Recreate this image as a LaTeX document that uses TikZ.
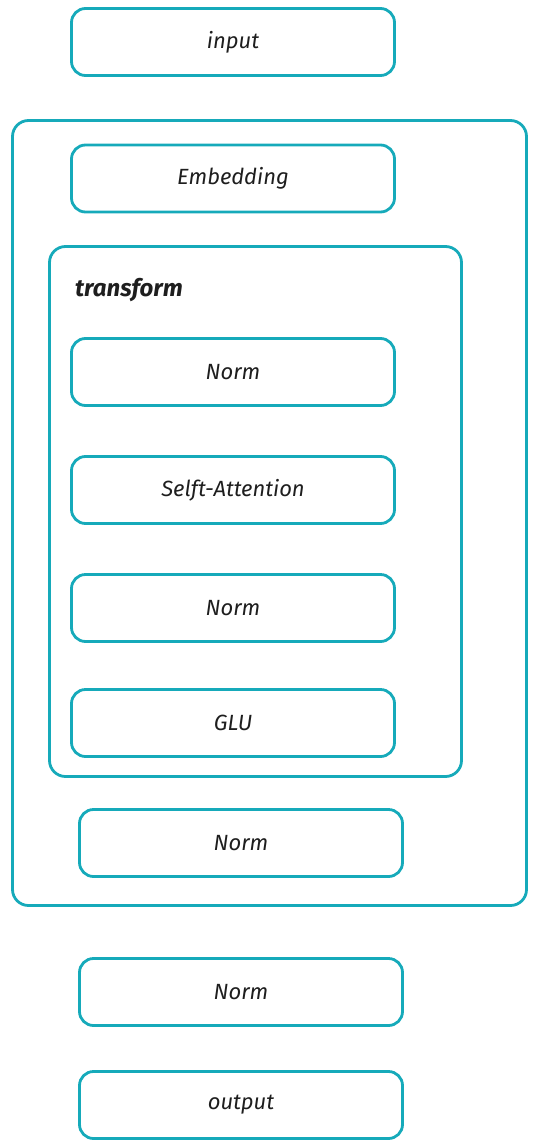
\documentclass[tikz,border=0pt]{standalone}
\usepackage{fontspec}
\setmainfont{Fira Sans}
\usetikzlibrary{shapes}

\definecolor{sketchteal}{RGB}{22,170,186}
\definecolor{inktext}{RGB}{30,30,30}

\tikzset{
    layer/.style={draw=sketchteal, line width=2.8pt, rounded corners=14pt,
        minimum width=323pt, minimum height=67pt, inner sep=0pt,
        text=inktext, font=\fontsize{22}{26}\selectfont\itshape},
    frame/.style={draw=sketchteal, line width=2.8pt, rounded corners=16pt, inner sep=0pt}
}

\begin{document}
\begin{tikzpicture}[x=1pt,y=-1pt]
\useasboundingbox (0,0) rectangle (535,1145);
% outer model box and transform block
\node[frame, minimum width=514pt, minimum height=785pt] (model) at (269.5,513) {};
\node[frame, minimum width=412pt, minimum height=530pt] (transform) at (255.5,511.5) {};
\node[anchor=base west, inner sep=0pt, text=inktext, font=\fontsize{24}{28}\selectfont\bfseries\itshape] (transformlabel) at (75,296) {transform};
% layers
\node[layer] (input) at (233,42) {input};
\node[layer] (embedding) at (233,178.5) {Embedding};
\node[layer] (norma) at (233,372) {Norm};
\node[layer] (attention) at (233,490) {Selft-Attention};
\node[layer] (normb) at (233,608) {Norm};
\node[layer] (glu) at (233,723) {GLU};
\node[layer] (normc) at (241,843) {Norm};
\node[layer] (normd) at (241,992) {Norm};
\node[layer] (output) at (241,1105) {output};
\end{tikzpicture}
\end{document}
